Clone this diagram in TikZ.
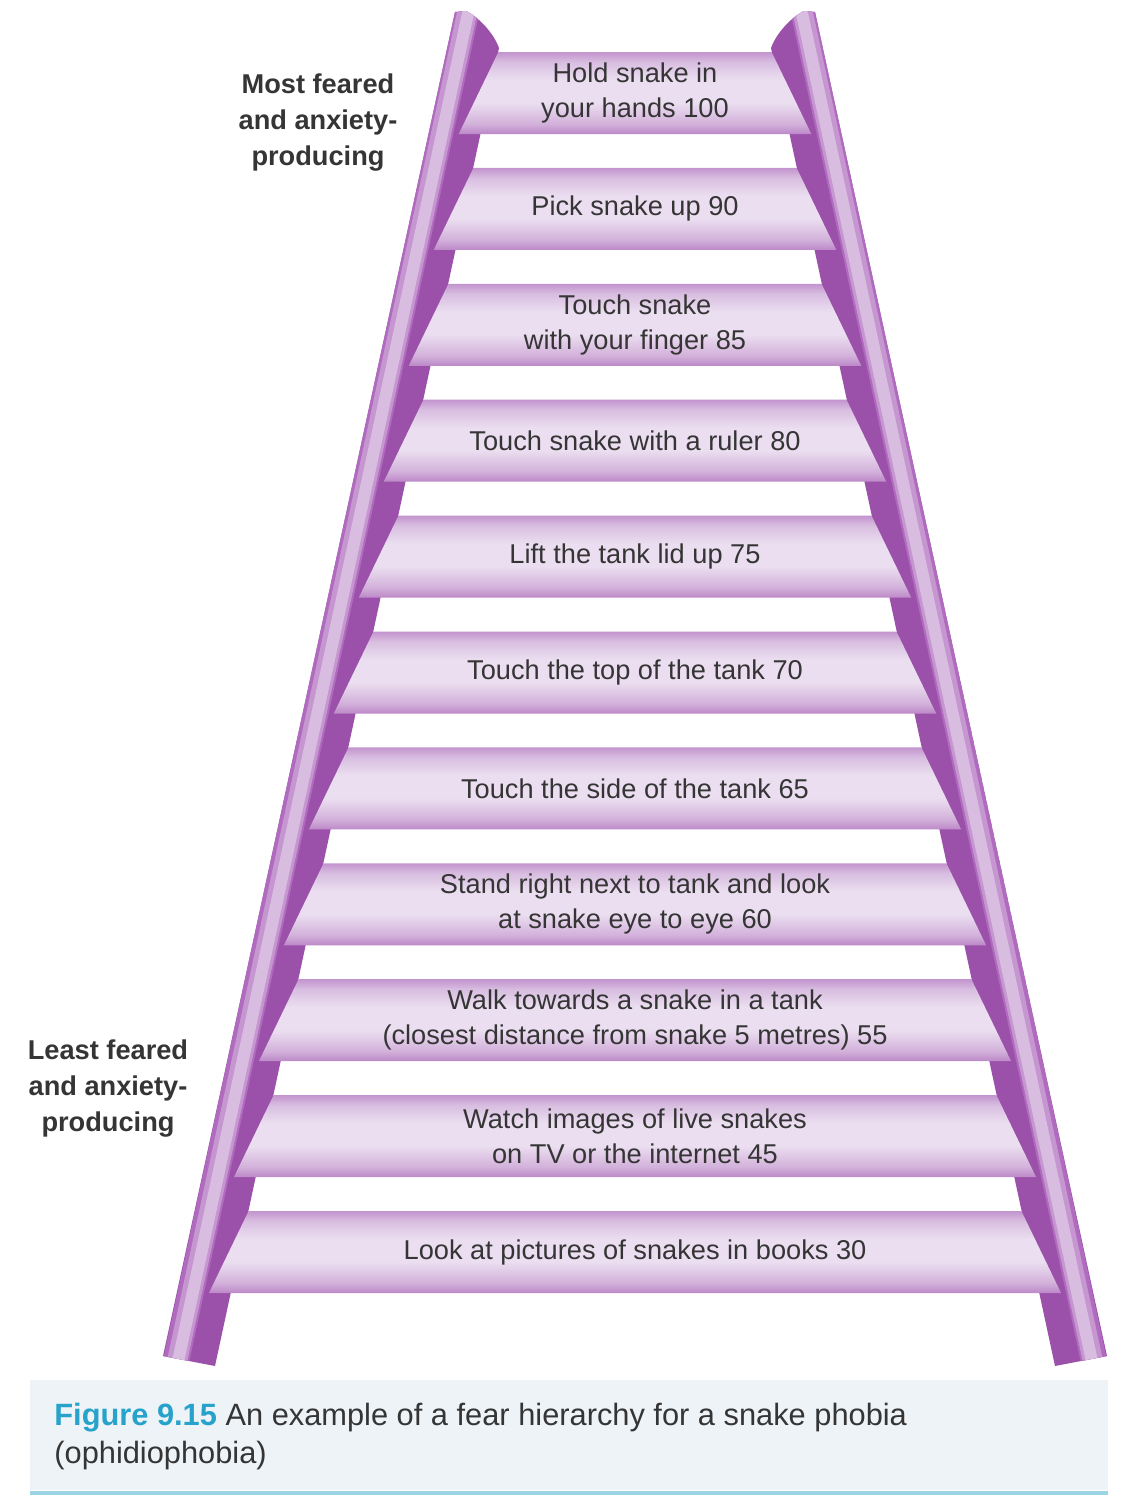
\documentclass[tikz,border=0pt]{standalone}
\usepackage{fontspec}
\setmainfont{Liberation Sans}
\usepackage{tikz}
\usetikzlibrary{positioning}
\definecolor{raildark}{HTML}{9B51AA}
\definecolor{railmid}{HTML}{B06BBE}
\definecolor{railsoft}{HTML}{C596CF}
\definecolor{raillight}{HTML}{D8BDE0}
\definecolor{rungtop}{HTML}{C394CE}
\definecolor{rungtopsoft}{HTML}{D8BDE0}
\definecolor{runglight}{HTML}{EBDEF0}
\definecolor{rungbotsoft}{HTML}{D2B0DA}
\definecolor{rungbottom}{HTML}{BC88C8}
\definecolor{capback}{HTML}{EEF3F7}
\definecolor{capline}{HTML}{9BD5E4}
\definecolor{capblue}{HTML}{27A3CB}
\definecolor{ink}{HTML}{353535}
\pgfdeclareverticalshading{rungshade}{100bp}{%
  color(0bp)=(rungbottom); color(25bp)=(rungbottom);
  color(31bp)=(rungbotsoft); color(44bp)=(runglight);
  color(58bp)=(runglight); color(69bp)=(rungtopsoft);
  color(75bp)=(rungtop); color(100bp)=(rungtop)}
\newcommand{\railoutline}{(455,12) -- (466,11) .. controls (480,18) and (494,34) .. (499,48)
  -- (215,1366) -- (163,1356) -- cycle}
\newcommand{\railbody}{%
  \fill[raildark] \railoutline;
  \begin{scope}
    \clip \railoutline;
    \draw[railmid, line width=13pt] (471,-10) -- (172,1380);
    \draw[railsoft, line width=10pt] (472,-10) -- (173,1380);
    \draw[raillight, line width=6pt] (473,-10) -- (174,1380);
  \end{scope}}
\tikzset{rungtext/.style={font=\fontsize{13.6}{17.5}\selectfont, text=ink,
           align=center, inner sep=0pt},
         sidelabel/.style={font=\fontsize{13.6}{18}\selectfont\bfseries, text=ink,
           align=center, inner sep=0pt},
         captext/.style={font=\fontsize{15.4}{19}\selectfont, text=ink,
           align=left, inner sep=0pt}}

\begin{document}
\begin{tikzpicture}[x=0.5pt, y=-0.5pt]
  \useasboundingbox (0,0) rectangle (1128,1500);
  \fill[white] (0,0) rectangle (1128,1500);
  % rails
  \railbody
  \begin{scope}[shift={(1270,0)}, xscale=-1]
    \railbody
  \end{scope}
  % rungs
  \foreach \txt [count=\i] in {{Hold snake in\\your hands 100},
      {Pick snake up 90},
      {Touch snake\\with your finger 85},
      {Touch snake with a ruler 80},
      {Lift the tank lid up 75},
      {Touch the top of the tank 70},
      {Touch the side of the tank 65},
      {Stand right next to tank and look\\at snake eye to eye 60},
      {Walk towards a snake in a tank\\(closest distance from snake 5 metres) 55},
      {Watch images of live snakes\\on TV or the internet 45},
      {Look at pictures of snakes in books 30}} {
    \pgfmathsetmacro\yt{52+(\i-1)*115.9}
    \pgfmathsetmacro\yb{\yt+82}
    \pgfmathsetmacro\xt{507-0.2155*(\yt-12)}
    \pgfmathsetmacro\xb{507-0.2155*(\yb-12)-22}
    \shade[shading=rungshade] (\xt,\yt) -- (1270-\xt,\yt) -- (1270-\xb,\yb) -- (\xb,\yb) -- cycle;
    \node[rungtext] (rung\i) at (635,\yt+41) {\txt};
  }
  \node[sidelabel] (most) at (318,123) {Most feared\\and anxiety-\\producing};
  \node[sidelabel] (least) at (108,1089) {Least feared\\and anxiety-\\producing};
  % caption
  \fill[capback] (30,1380) rectangle (1108,1490);
  \draw[capline, line width=2pt] (30,1493) -- (1108,1493);
  \node[captext, anchor=north west] (caption) at (54,1403)
    {\textcolor{capblue}{\bfseries Figure 9.15} An example of a fear hierarchy for a snake phobia\\(ophidiophobia)};
\end{tikzpicture}
\end{document}
